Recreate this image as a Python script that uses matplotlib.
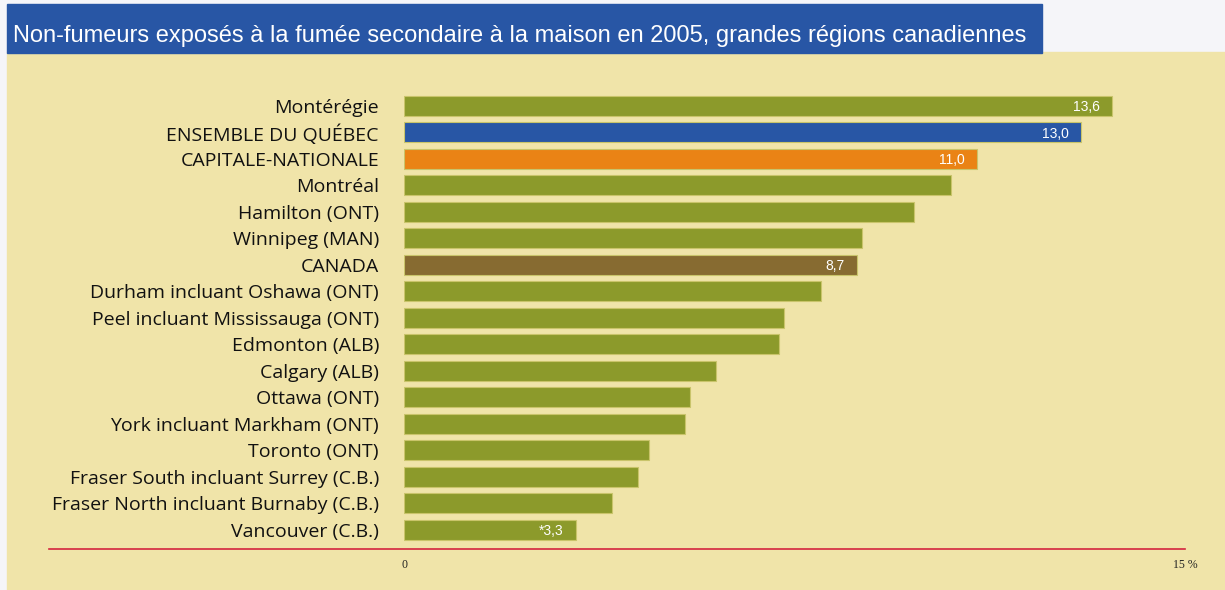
import matplotlib.pyplot as plt
from matplotlib.patches import Rectangle

regions = ["Montérégie", "ENSEMBLE DU QUÉBEC", "CAPITALE-NATIONALE", "Montréal",
           "Hamilton (ONT)", "Winnipeg (MAN)", "CANADA",
           "Durham incluant Oshawa (ONT)", "Peel incluant Mississauga (ONT)",
           "Edmonton (ALB)", "Calgary (ALB)", "Ottawa (ONT)",
           "York incluant Markham (ONT)", "Toronto (ONT)",
           "Fraser South incluant Surrey (C.B.)",
           "Fraser North incluant Burnaby (C.B.)", "Vancouver (C.B.)"]
values = [13.6, 13.0, 11.0, 10.5, 9.8, 8.8, 8.7, 8.0, 7.3, 7.2, 6.0, 5.5, 5.4,
          4.7, 4.5, 4.0, 3.3]
# only some bars carry a printed value
value_labels = {0: "13,6", 1: "13,0", 2: "11,0", 6: "8,7", 16: "*3,3"}

olive = "#8c9a2b"
colors = [olive] * len(values)
colors[1] = "#2856a5"
colors[2] = "#ea8315"
colors[6] = "#876b31"

beige = "#f0e4a9"
W, H = 1225, 590

fig = plt.figure(figsize=(W / 100, H / 100), dpi=100)
fig.patch.set_facecolor("#f5f5f9")
# beige panel and blue title banner (pixel coords -> figure fractions)
fig.add_artist(Rectangle((7 / W, 0), 1 - 7 / W, (H - 52) / H,
                         transform=fig.transFigure, color=beige, zorder=0))
fig.add_artist(Rectangle((7 / W, (H - 53) / H), (1042 - 7) / W, 49 / H,
                         transform=fig.transFigure, color="#2856a5", zorder=1))
fig.text(13 / W, (H - 36) / H,
         "Non-fumeurs exposés à la fumée secondaire à la maison en 2005, grandes régions canadiennes",
         color="white", fontsize=17, va="center", ha="left",
         family="Liberation Sans")

ax = fig.add_axes([404 / W, (H - 549) / H, (1185 - 404) / W, (549 - 90) / H])
ax.set_facecolor("none")
y = list(range(len(values)))
ax.barh(y, values, height=0.76, color=colors, edgecolor="#c9c46a",
        linewidth=0.8)
ax.set_xlim(0, 15)
ax.set_ylim(16.72, -0.6)

for i, txt in value_labels.items():
    ax.text(values[i] - 0.23, i + 0.05, txt, color="white", fontsize=10,
            ha="right", va="center", family="Liberation Sans")

ax.set_yticks(y)
ax.set_yticklabels(regions, fontsize=14, family="Open Sans", color="#111111")
ax.tick_params(axis="y", length=0, pad=18)
ax.set_xticks([0, 15])
ax.set_xticklabels(["0", "15 %"], fontsize=8.5, family="Liberation Serif",
                   color="#222222")
ax.tick_params(axis="x", length=0, pad=7)
for s in ax.spines.values():
    s.set_visible(False)
ax.axhline(16.72, xmin=-(404 - 49) / (1185 - 404), xmax=1.0, color="#d4253f",
           linewidth=1.2, clip_on=False)

fig.savefig("out.png", dpi=100, facecolor=fig.get_facecolor())
